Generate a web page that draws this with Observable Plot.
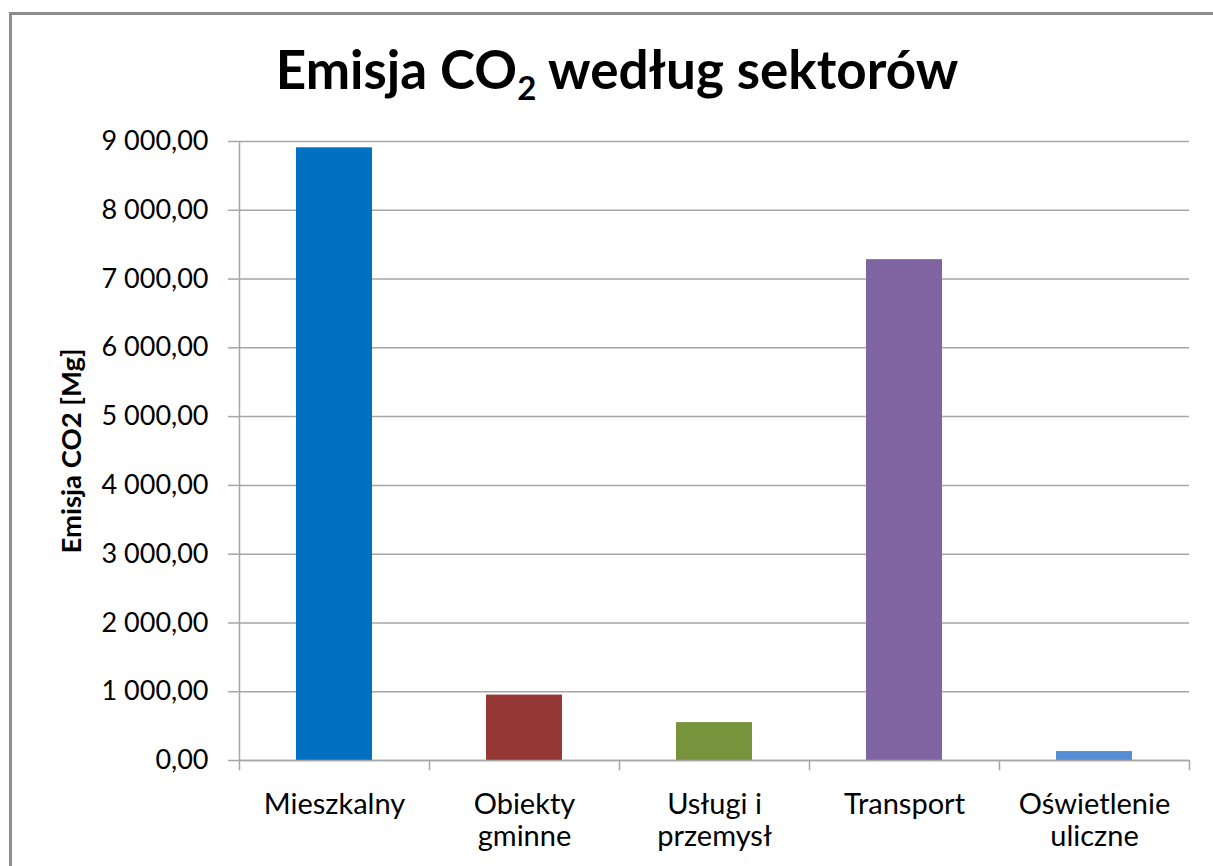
<!DOCTYPE html>
<html>
<head>
<meta charset="utf-8">
<script src="https://cdn.jsdelivr.net/npm/d3@7"></script>
<script src="https://cdn.jsdelivr.net/npm/@observablehq/plot@0.6"></script>
<style>
  html, body { margin: 0; padding: 0; background: #fff; width: 1213px; height: 866px; overflow: hidden; }
  #frame { position: absolute; left: 9px; top: 12px; width: 1300px; height: 1000px; border-left: 3px solid #8c8c8c; border-top: 3px solid #8c8c8c; box-sizing: border-box; z-index: 5; pointer-events: none; }
  #title { position: absolute; left: 0; top: 37px; width: 1234px; text-align: center; font-family: Lato, "Open Sans", sans-serif; font-weight: bold; font-size: 53px; color: #000; line-height: 64px; }
  #title sub { font-size: 33px; vertical-align: -11px; line-height: 0; }
  #chart { position: absolute; left: 0; top: 115px; }
</style>
</head>
<body>
<div id="frame"></div>
<div id="title">Emisja CO<sub>2</sub> według sektorów</div>
<div id="chart"></div>
<script>
const categories = ["Mieszkalny", "Obiekty\ngminne", "Usługi i\nprzemysł", "Transport", "Oświetlenie\nuliczne"];
const values = [8908, 951, 551, 7282, 130];
const colors = ["#0070C0", "#953735", "#77933C", "#8064A2", "#558ED5"];
const yTicks = [0, 1000, 2000, 3000, 4000, 5000, 6000, 7000, 8000, 9000];
const yLabel = "Emisja CO2 [Mg]";

const data = categories.map((c, i) => ({category: c, value: values[i], color: colors[i]}));
const plFormat = d3.formatLocale({decimal: ",", thousands: " ", grouping: [3], currency: ["", ""]}).format(",.2f");
const half = 95;
const gray = "#a6a6a6";

const chart = Plot.plot({
  width: 1213,
  height: 751,
  marginLeft: 239,
  marginRight: 24,
  marginTop: 26,
  marginBottom: 106,
  style: {fontFamily: "Lato, 'Open Sans', sans-serif", background: "transparent"},
  x: {domain: categories, paddingInner: 0.6, paddingOuter: 0.3, label: null},
  y: {domain: [0, 9000], label: null},
  marks: [
    Plot.gridY(yTicks, {stroke: gray, strokeOpacity: 1, strokeWidth: 1.5}),
    Plot.barY(data, {x: "category", y: "value", fill: "color"}),
    Plot.ruleY([0], {stroke: gray, strokeWidth: 1.5}),
    Plot.ruleX([categories[0]], {dx: -half, y1: -150, y2: 9000, stroke: gray, strokeWidth: 1.5}),
    Plot.ruleX(categories.slice(1), {dx: -half, y1: -150, y2: 0, stroke: gray, strokeWidth: 1.5}),
    Plot.ruleX([categories[categories.length - 1]], {dx: half, y1: -150, y2: 0, stroke: gray, strokeWidth: 1.5}),
    Plot.axisY(yTicks, {tickFormat: plFormat, tickSize: 11, tickPadding: 20, fontSize: 27, fill: "#000", stroke: gray, strokeWidth: 1.5, label: null}),
    Plot.axisX({tickSize: 0, tickPadding: 30, fontSize: 29, lineHeight: 1.12, fill: "#000", label: null}),
    Plot.text([yLabel], {frameAnchor: "left", textAnchor: "middle", rotate: -90, dx: -167, fontSize: 27.5, fontWeight: "bold", fill: "#000"})
  ]
});
document.getElementById("chart").appendChild(chart);
</script>
</body>
</html>
